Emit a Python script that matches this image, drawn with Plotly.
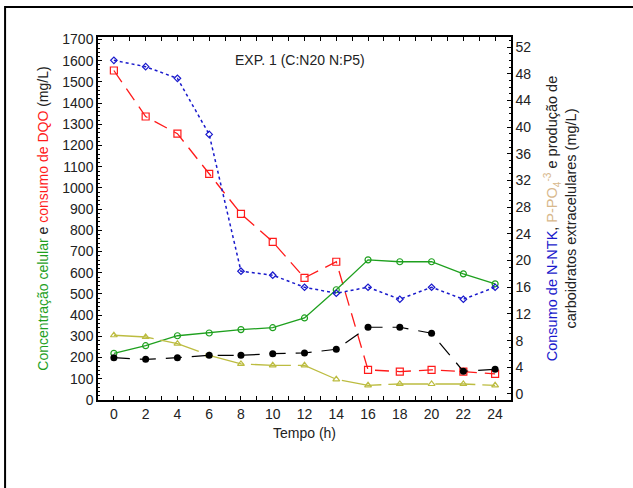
import plotly.graph_objects as go

hours = [0, 2, 4, 6, 8, 10, 12, 14, 16, 18, 20, 22, 24]
cell = [220, 256, 303, 316, 332, 341, 387, 520, 661, 652, 652, 595, 548]
dqo = [1554, 1337, 1256, 1066, 878, 746, 576, 652, 142, 134, 142, 134, 123]
nntk = [50.0, 49.05, 47.3, 38.9, 18.4, 17.8, 16.0, 15.1, 16.0, 14.2, 16.0, 14.2, 16.0]
ppo4 = [8.8, 8.54, 7.55, 5.8, 4.5, 4.3, 4.3, 2.2, 1.3, 1.5, 1.5, 1.5, 1.3]
carb = [5.44, 5.19, 5.44, 5.79, 5.79, 6.04, 6.14, 6.7, 10.0, 10.0, 9.1, 3.4, 3.7]
x_ticks = [0, 2, 4, 6, 8, 10, 12, 14, 16, 18, 20, 22, 24]
y1_ticks = list(range(0, 1800, 100))
y2_ticks = list(range(0, 56, 4))

GREEN = "#1ea01e"
RED = "#ff1a1a"
BLUE = "#1a1acc"
OLIVE = "#bcbc40"
TAN = "#d8b88c"

fig = go.Figure()
fig.add_trace(go.Scatter(x=hours, y=ppo4, yaxis="y2", mode="lines+markers",
                         line=dict(color=OLIVE, width=1.3, dash="40px,7px"),
                         marker=dict(symbol="triangle-up-open", size=6, color=OLIVE, line=dict(width=1.2))))
fig.add_trace(go.Scatter(x=hours, y=carb, yaxis="y2", mode="lines+markers",
                         line=dict(color="black", width=1.2, dash="16px,10px"),
                         marker=dict(symbol="circle", size=7, color="black")))
fig.add_trace(go.Scatter(x=hours, y=nntk, yaxis="y2", mode="lines+markers",
                         line=dict(color=BLUE, width=1.5, dash="dot"),
                         marker=dict(symbol="diamond-open", size=5, color=BLUE, line=dict(width=1.2))))
fig.add_trace(go.Scatter(x=hours, y=dqo, mode="lines+markers",
                         line=dict(color=RED, width=1.3, dash="14px,8px"),
                         marker=dict(symbol="square-open", size=7, color=RED, line=dict(width=1.2))))
fig.add_trace(go.Scatter(x=hours, y=cell, mode="lines+markers",
                         line=dict(color=GREEN, width=1.3),
                         marker=dict(symbol="circle-open", size=6, color=GREEN, line=dict(width=1.2))))

left_title = (f'<span style="color:{GREEN}">Concentração celular</span> e '
              f'<span style="color:{RED}">consumo de DQO</span> (mg/L)')
right_title = (f'<span style="color:{BLUE}">Consumo de N-NTK</span>, '
               f'<span style="color:{TAN}">P-PO<sub>4</sub><sup>-3</sup></span> e produção de<br>'
               'carboidratos extracelulares (mg/L)')

axis_font = dict(family="Liberation Sans, Arial, sans-serif", size=14, color="#222")

fig.update_layout(
    width=633, height=488,
    margin=dict(l=98, r=122, t=37, b=88),
    paper_bgcolor="white", plot_bgcolor="white",
    showlegend=False,
    font=axis_font,
    xaxis=dict(range=[-1, 25], tickvals=x_ticks, ticks="inside", ticklen=4,
               tickcolor="black", showline=True, linecolor="black", linewidth=1.5,
               mirror="ticks", showgrid=False, zeroline=False,
               minor=dict(dtick=1, ticks="inside", ticklen=4, tickcolor="black"),
               title=dict(text="Tempo (h)", font=axis_font, standoff=8),
               tickfont=axis_font),
    yaxis=dict(range=[0, 1712], tickvals=y1_ticks, ticks="inside", ticklen=4,
               tickcolor="black", showline=True, linecolor="black", linewidth=1.5,
               showgrid=False, zeroline=False,
               minor=dict(dtick=20, ticks="inside", ticklen=2, tickcolor="black"),
               title=dict(text=left_title, font=axis_font, standoff=10),
               tickfont=axis_font),
    yaxis2=dict(range=[-0.9, 53.5], tickvals=y2_ticks, ticks="inside", ticklen=4,
                tickcolor="black", showline=True, linecolor="black", linewidth=1.5,
                overlaying="y", side="right", showgrid=False, zeroline=False,
                minor=dict(dtick=1, ticks="inside", ticklen=2, tickcolor="black"),
                title=dict(text=right_title, font=dict(family="Liberation Sans, Arial, sans-serif", size=14.5, color="#222"), standoff=17),
                tickfont=axis_font),
    annotations=[dict(text="EXP. 1 (C:N20 N:P5)", x=0.49, y=0.965, xref="paper", yref="paper",
                      showarrow=False, font=dict(family="Liberation Sans, Arial, sans-serif", size=14, color="#222"))],
    shapes=[dict(type="rect", xref="paper", yref="paper", x0=-0.225, x1=1.4, y0=-0.35, y1=1.0826,
                 line=dict(color="black", width=2), layer="below")],
)

fig.write_html("out.html")
